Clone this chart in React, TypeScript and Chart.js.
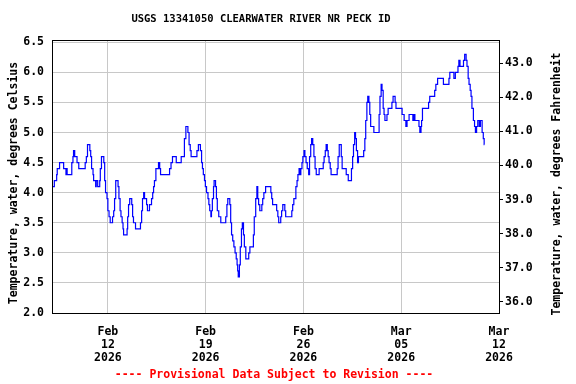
import { useEffect, useRef } from "react";
import { Chart, registerables } from "chart.js";

Chart.register(...registerables);

// ---------------- data ----------------
const startDate = [2026, 1, 8]; // 2026-02-08 00:00 (month index 1 = Feb)
const monthNames = ["Jan", "Feb", "Mar", "Apr", "May", "Jun", "Jul", "Aug", "Sep", "Oct", "Nov", "Dec"];

// hours since 2026-02-08 00:00 at which the reading changes
const hours = [
  0, 4, 8, 9, 13, 20, 24, 25, 26, 34, 36, 37, 39, 43, 46, 57, 59, 61, 65, 66.5,
  68, 70.5, 71.5, 75, 76, 78.5, 82, 83, 85, 89, 90.5, 92, 94.5, 96, 98, 100, 104, 106, 107.5, 109.5,
  113.5, 115, 117, 118.5, 120.5, 122, 123, 129, 130, 131.5, 133.5, 137, 138.5, 140, 143.5, 152, 154, 155.5, 157.5, 159,
  162.5, 164, 167.5, 171, 173, 174.5, 176, 178.5, 183, 185, 186.5, 202, 204.5, 207, 213.5, 222, 227.5, 230, 233.5, 235.5,
  237.5, 239, 249, 251.5, 255, 257, 258.5, 260, 262, 263.5, 265.5, 268, 269.5, 271, 273, 274, 275.5, 277.5, 278.5, 281,
  282.5, 284, 286.5, 290, 298.5, 300.5, 302, 305.5, 307, 308.5, 310.5, 312.5, 314.5, 316.5, 318, 319, 320, 322, 323.5, 325.5,
  327, 329, 330.5, 333, 338, 340, 346, 347.5, 350, 352, 353.5, 355, 357, 360.5, 362, 364, 367, 376, 377.5, 379,
  386, 388, 389.5, 393, 394.5, 396.5, 400, 401.5, 412, 413.5, 415.5, 419, 421, 422.5, 424.5, 426, 427.5, 429.5, 431, 433,
  434.5, 436.5, 438.5, 441, 442.5, 444.5, 446, 448, 450, 452, 454, 459, 466, 467.5, 469.5, 471, 473, 474.5, 476, 478,
  479.5, 490, 491.5, 493.5, 497, 498.5, 505.5, 509, 514.5, 516.5, 518, 520, 521.5, 523, 525, 526.5, 535.5, 537.5, 539, 541,
  542.5, 544.5, 546, 547.5, 553, 562, 563.5, 565.5, 567, 569, 570.5, 572, 575.5, 577.5, 584, 586, 589.5, 591, 601.5, 605,
  608, 610, 613.5, 620, 622, 623.5, 630.5, 632, 634, 635, 636.5, 647, 649, 657.5, 659.5, 662.5, 672.5, 682, 683.5, 690.5,
  693, 697.5, 699, 701, 707, 709, 711.5, 713, 715, 716.5, 718.5, 720, 721.5, 724, 726, 727.5, 729.5, 731.5, 734, 736,
  739, 741, 742.5, 743,
];

// water temperature, degrees Celsius
const tempC = [
  4.1, 4.2, 4.3, 4.4, 4.5, 4.4, 4.3, 4.4, 4.3, 4.5, 4.6, 4.7, 4.6, 4.5, 4.4, 4.5, 4.6, 4.8, 4.7, 4.6,
  4.4, 4.3, 4.2, 4.1, 4.2, 4.1, 4.2, 4.4, 4.6, 4.5, 4.2, 4.0, 3.9, 3.7, 3.6, 3.5, 3.6, 3.7, 3.9, 4.2,
  4.1, 3.9, 3.7, 3.6, 3.5, 3.4, 3.3, 3.4, 3.6, 3.8, 3.9, 3.8, 3.6, 3.5, 3.4, 3.5, 3.7, 3.9, 4.0, 3.9,
  3.8, 3.7, 3.8, 3.9, 4.0, 4.1, 4.2, 4.4, 4.5, 4.4, 4.3, 4.4, 4.5, 4.6, 4.5, 4.6, 4.9, 5.1, 5.0, 4.8,
  4.7, 4.6, 4.7, 4.8, 4.7, 4.5, 4.4, 4.3, 4.2, 4.1, 4.0, 3.9, 3.8, 3.7, 3.6, 3.7, 3.9, 4.1, 4.2, 4.1,
  3.9, 3.7, 3.6, 3.5, 3.6, 3.8, 3.9, 3.8, 3.5, 3.3, 3.2, 3.1, 3.0, 2.9, 2.8, 2.7, 2.6, 2.8, 3.1, 3.4,
  3.5, 3.3, 3.1, 2.9, 3.0, 3.1, 3.3, 3.6, 3.9, 4.1, 3.9, 3.8, 3.7, 3.8, 3.9, 4.0, 4.1, 4.0, 3.9, 3.8,
  3.7, 3.6, 3.5, 3.6, 3.7, 3.8, 3.7, 3.6, 3.7, 3.8, 3.9, 4.1, 4.2, 4.3, 4.4, 4.3, 4.4, 4.5, 4.6, 4.7,
  4.6, 4.5, 4.4, 4.3, 4.6, 4.8, 4.9, 4.8, 4.6, 4.4, 4.3, 4.4, 4.5, 4.6, 4.7, 4.8, 4.7, 4.6, 4.5, 4.4,
  4.3, 4.4, 4.6, 4.8, 4.6, 4.4, 4.3, 4.2, 4.4, 4.6, 4.8, 5.0, 4.9, 4.7, 4.5, 4.6, 4.7, 4.9, 5.2, 5.5,
  5.6, 5.5, 5.3, 5.1, 5.0, 5.3, 5.6, 5.8, 5.7, 5.4, 5.3, 5.2, 5.3, 5.4, 5.5, 5.6, 5.5, 5.4, 5.3, 5.2,
  5.1, 5.2, 5.3, 5.2, 5.3, 5.2, 5.1, 5.0, 5.1, 5.2, 5.4, 5.5, 5.6, 5.7, 5.8, 5.9, 5.8, 5.9, 6.0, 5.9,
  6.0, 6.1, 6.2, 6.1, 6.2, 6.3, 6.2, 6.1, 5.9, 5.8, 5.7, 5.6, 5.4, 5.2, 5.1, 5.0, 5.1, 5.2, 5.1, 5.2,
  5.0, 4.9, 4.8, 4.8,
];

const xTickHours = [96, 264, 432, 600, 768];
const yTicksC = [2.0, 2.5, 3.0, 3.5, 4.0, 4.5, 5.0, 5.5, 6.0, 6.5];
const yTicksF = [36, 37, 38, 39, 40, 41, 42, 43];

const titleText = "USGS 13341050 CLEARWATER RIVER NR PECK ID";
const footerText = "---- Provisional Data Subject to Revision ----";
const leftTitle = "Temperature, water, degrees Celsius";
const rightTitle = "Temperature, water, degrees Fahrenheit";

const X_MIN = 0;
const X_MAX = 768;
const C_MIN = 2.0;
const C_MAX = 6.538;
const F_MIN = 35.668;
const F_MAX = 43.684;

const FONT = '"DejaVu Sans Mono", "Liberation Mono", monospace';

export default function App() {
  const ref = useRef<HTMLCanvasElement>(null);

  useEffect(() => {
    const canvas = ref.current;
    if (!canvas) return;

    const points = hours.map((h, i) => ({ x: h, y: tempC[i] }));

    const textPlugin = {
      id: "usgsTexts",
      afterDraw(chart: any) {
        const { ctx, chartArea: a } = chart;
        ctx.save();
        ctx.strokeStyle = "#000";
        ctx.lineWidth = 1;
        ctx.strokeRect(a.left + 0.5, a.top + 0.5, a.right - a.left, a.bottom - a.top);

        ctx.fillStyle = "#000";
        ctx.textAlign = "center";
        ctx.textBaseline = "middle";
        ctx.font = `bold 10.5px ${FONT}`;
        ctx.fillText(titleText, 261, 19);

        ctx.font = `bold 11.5px ${FONT}`;
        ctx.fillStyle = "#ff0000";
        ctx.fillText(footerText, 274, 375);

        ctx.fillStyle = "#000";
        ctx.save();
        ctx.translate(14, 183);
        ctx.rotate(-Math.PI / 2);
        ctx.fillText(leftTitle, 0, 0);
        ctx.restore();
        ctx.save();
        ctx.translate(557, 184);
        ctx.rotate(-Math.PI / 2);
        ctx.fillText(rightTitle, 0, 0);
        ctx.restore();
        ctx.restore();
      },
    };

    const tickFont = { family: FONT, size: 11.5, weight: "bold" as const, lineHeight: 1.11 };

    const chart = new Chart(canvas, {
      type: "line",
      data: {
        datasets: [
          {
            data: points,
            borderColor: "#0000ff",
            borderWidth: 1.2,
            pointRadius: 0,
            stepped: true,
            fill: false,
            yAxisID: "y",
          },
        ],
      },
      options: {
        animation: false,
        responsive: false,
        maintainAspectRatio: false,
        layout: { padding: { top: 40, left: 0, right: 0, bottom: 0 } },
        plugins: {
          legend: { display: false },
          tooltip: { enabled: false },
          title: { display: false },
        },
        scales: {
          x: {
            type: "linear",
            min: X_MIN,
            max: X_MAX,
            afterBuildTicks: (scale: any) => {
              scale.ticks = xTickHours.map((v) => ({ value: v }));
            },
            afterFit: (scale: any) => {
              scale.height = 71;
            },
            grid: { color: "#c8c8c8", drawTicks: false, lineWidth: 1 },
            border: { display: false },
            ticks: {
              color: "#000",
              font: tickFont,
              padding: 13,
              maxRotation: 0,
              autoSkip: false,
              callback: (value: any) => {
                const d = new Date(startDate[0], startDate[1], startDate[2]);
                d.setHours(d.getHours() + Number(value));
                const dd = String(d.getDate()).padStart(2, "0");
                return [monthNames[d.getMonth()], dd, String(d.getFullYear())];
              },
            },
          },
          y: {
            type: "linear",
            position: "left",
            min: C_MIN,
            max: C_MAX,
            afterBuildTicks: (scale: any) => {
              scale.ticks = yTicksC.map((v) => ({ value: v }));
            },
            afterFit: (scale: any) => {
              scale.width = 52;
            },
            grid: { color: "#c8c8c8", drawTicks: false, lineWidth: 1 },
            border: { display: false },
            ticks: {
              color: "#000",
              font: tickFont,
              padding: 8,
              callback: (v: any) => Number(v).toFixed(1),
            },
          },
          yF: {
            type: "linear",
            position: "right",
            min: F_MIN,
            max: F_MAX,
            afterBuildTicks: (scale: any) => {
              scale.ticks = yTicksF.map((v) => ({ value: v }));
            },
            afterFit: (scale: any) => {
              scale.width = 77;
            },
            grid: { drawOnChartArea: false, drawTicks: true, tickLength: 4, color: "#000" },
            border: { display: false },
            ticks: {
              color: "#000",
              font: tickFont,
              padding: 2,
              callback: (v: any) => Number(v).toFixed(1),
            },
          },
        },
      },
      plugins: [textPlugin],
    });

    return () => chart.destroy();
  }, []);

  return (
    <div style={{ position: "fixed", left: 0, top: 0, width: 576, height: 384, background: "#fff" }}>
      <canvas ref={ref} width={576} height={384} style={{ display: "block" }} />
    </div>
  );
}
